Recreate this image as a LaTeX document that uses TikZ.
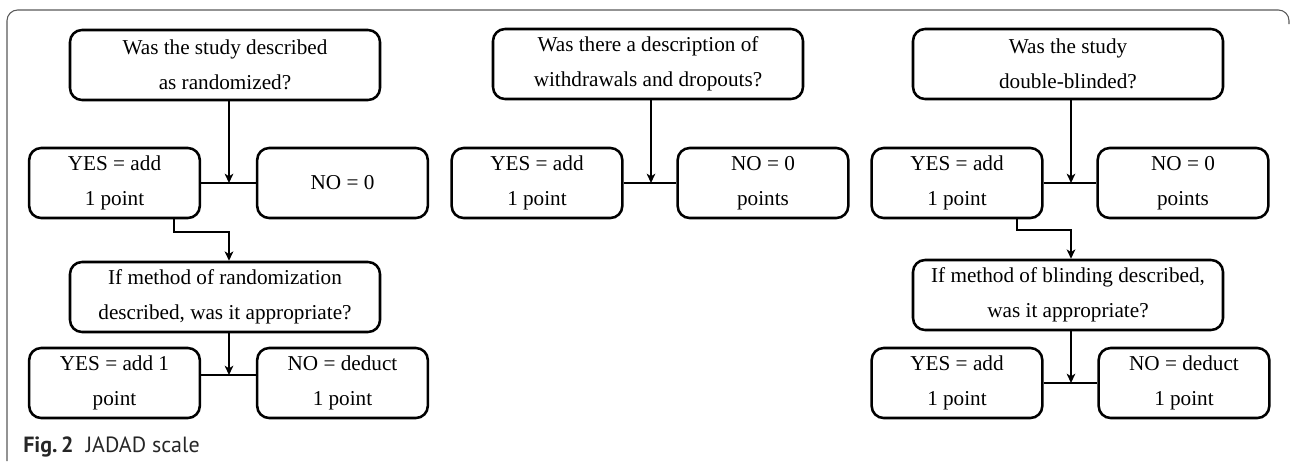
\documentclass[tikz,border=0pt]{standalone}
\usepackage{fontspec}
\setmainfont{Liberation Serif}
\newfontfamily\capfont{PT Sans}
\usetikzlibrary{arrows.meta}
\begin{document}
\begin{tikzpicture}[x=0.75pt,y=-0.75pt,
  box/.style={draw, line width=1.9pt, rounded corners=9pt, align=center,
    inner sep=0pt, font=\fontsize{15.9}{26}\selectfont},
  qbox/.style={box, minimum width=232.5pt, minimum height=52.5pt},
  abox/.style={box, minimum width=128pt, minimum height=52.5pt},
  conn/.style={line width=1.5pt},
  arr/.style={conn, -{Stealth[length=7pt,width=6.5pt,inset=2pt]}},
  frame/.style={draw=black!65, line width=0.8pt, rounded corners=8pt}]
\useasboundingbox (0,0) rectangle (1290,461);
% frame
\coordinate (fa) at (7,461);
\coordinate (fb) at (1289,24);
\draw[frame] (fa) |- (1289,10) -- (fb);
% column 1
\node[qbox] (q1) at (225,65) {Was the study described\\as randomized?};
\node[abox] (y1) at (114.5,183) {YES = add\\1 point};
\node[abox] (n1) at (342.5,183) {NO = 0};
\node[qbox] (q2) at (225,297) {If method of randomization\\described, was it appropriate?};
\node[abox] (y2) at (114.5,383) {YES = add 1\\point};
\node[abox] (n2) at (342.5,383) {NO = deduct\\1 point};
\coordinate (j1) at (229,183);
\coordinate (k1) at (174,232);
\coordinate (j2) at (229,375);
\draw[arr] (j1 |- q1.south) -- (j1);
\draw[conn] (y1.east) -- (n1.west);
\draw[arr] (k1 |- y1.south) -- (k1) -| (j1 |- q2.north);
\draw[arr] (j2 |- q2.south) -- (j2);
\draw[conn] (y2.east |- j2) -- (n2.west |- j2);
% column 2
\node[qbox] (q3) at (648,64) {Was there a description of\\withdrawals and dropouts?};
\node[abox] (y3) at (537,183) {YES = add\\1 point};
\node[abox] (n3) at (763,183) {NO = 0\\points};
\coordinate (j3) at (651,183);
\draw[arr] (j3 |- q3.south) -- (j3);
\draw[conn] (y3.east) -- (n3.west);
% column 3
\node[qbox] (q4) at (1068,64) {Was the study\\double-blinded?};
\node[abox] (y4) at (957,183) {YES = add\\1 point};
\node[abox] (n4) at (1183,183) {NO = 0\\points};
\node[qbox] (q5) at (1068,295) {If method of blinding described,\\was it appropriate?};
\node[abox] (y5) at (957,383) {YES = add\\1 point};
\node[abox] (n5) at (1184,383) {NO = deduct\\1 point};
\coordinate (j4) at (1071,183);
\coordinate (k4) at (1017,230);
\coordinate (j5) at (1071,383);
\draw[arr] (j4 |- q4.south) -- (j4);
\draw[conn] (y4.east) -- (n4.west);
\draw[arr] (k4 |- y4.south) -- (k4) -| (j4 |- q5.north);
\draw[arr] (j5 |- q5.south) -- (j5);
\draw[conn] (y5.east) -- (n5.west);
% caption
\node[anchor=base west, inner sep=0pt, font=\capfont\fontsize{16.5}{18}\selectfont, text=black!85] (cap) at (23,452) {\textbf{Fig.\,2}\hspace{0.55em}JADAD scale};
\end{tikzpicture}
\end{document}
